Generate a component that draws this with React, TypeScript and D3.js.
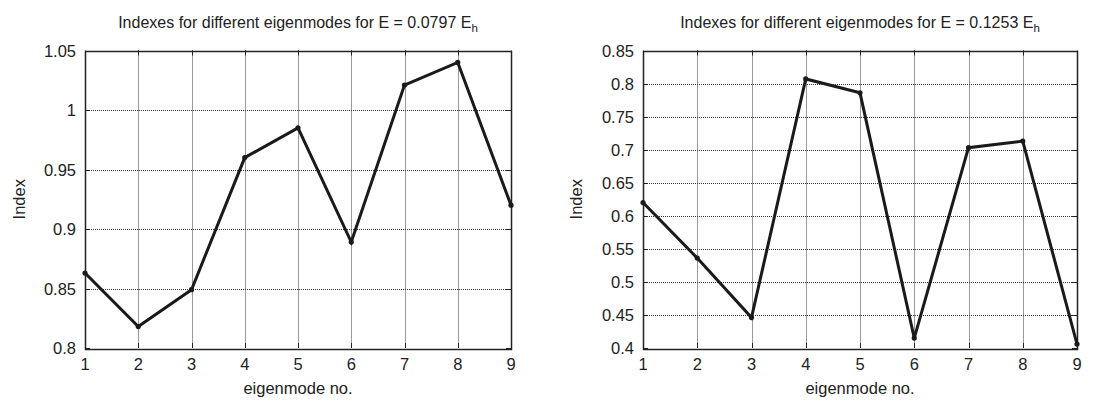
import React from "react";
import * as d3 from "d3";

const modes = [1, 2, 3, 4, 5, 6, 7, 8, 9];
const indexLow = [0.863, 0.818, 0.849, 0.960, 0.985, 0.889, 1.021, 1.040, 0.920];
const indexHigh = [0.620, 0.536, 0.446, 0.807, 0.786, 0.415, 0.703, 0.713, 0.406];
const yTicksLow = [0.8, 0.85, 0.9, 0.95, 1, 1.05];
const yTicksHigh = [0.4, 0.45, 0.5, 0.55, 0.6, 0.65, 0.7, 0.75, 0.8, 0.85];
const titleLow = { main: "Indexes for different eigenmodes for E = 0.0797 E", sub: "h" };
const titleHigh = { main: "Indexes for different eigenmodes for E = 0.1253 E", sub: "h" };

const FONT = "'Liberation Sans', Arial, Helvetica, sans-serif";

type PanelProps = {
  x0: number;
  x1: number;
  y0: number;
  y1: number;
  values: number[];
  yTicks: number[];
  title: { main: string; sub: string };
  labelX: number;
};

const px = (v: number) => Math.round(v) + 0.5;

function Panel({ x0, x1, y0, y1, values, yTicks, title, labelX }: PanelProps) {
  const x = d3.scaleLinear().domain([1, 9]).range([x0, x1]);
  const y = d3
    .scaleLinear()
    .domain([yTicks[0], yTicks[yTicks.length - 1]])
    .range([y1, y0]);
  const line = d3
    .line<number>()
    .x((_, i) => x(modes[i]))
    .y((d) => y(d));
  const tickLen = 5;
  const cx = (x0 + x1) / 2;
  const cy = (y0 + y1) / 2;
  return (
    <g fontFamily={FONT} fill="#222">
      {/* grid */}
      {modes.slice(1, -1).map((m) => (
        <line
          key={"gx" + m}
          x1={px(x(m))}
          x2={px(x(m))}
          y1={y0}
          y2={y1}
          stroke="#333"
          strokeWidth={1}
          strokeDasharray="1,1"
        />
      ))}
      {yTicks.slice(1, -1).map((t) => (
        <line
          key={"gy" + t}
          x1={x0}
          x2={x1}
          y1={px(y(t))}
          y2={px(y(t))}
          stroke="#333"
          strokeWidth={1}
          strokeDasharray="1,1"
        />
      ))}
      {/* ticks */}
      {modes.map((m) => (
        <g key={"tx" + m}>
          <line x1={px(x(m))} x2={px(x(m))} y1={y1} y2={y1 - tickLen} stroke="#222" />
          <line x1={px(x(m))} x2={px(x(m))} y1={y0} y2={y0 + tickLen} stroke="#222" />
          <text x={x(m)} y={y1 + 22} textAnchor="middle" fontSize={16.5} fill="#222">
            {m}
          </text>
        </g>
      ))}
      {yTicks.map((t) => (
        <g key={"ty" + t}>
          <line x1={x0} x2={x0 + tickLen} y1={px(y(t))} y2={px(y(t))} stroke="#222" />
          <line x1={x1} x2={x1 - tickLen} y1={px(y(t))} y2={px(y(t))} stroke="#222" />
          <text x={x0 - 9} y={y(t) + 6} textAnchor="end" fontSize={16.5} fill="#222">
            {String(t)}
          </text>
        </g>
      ))}
      {/* box */}
      <rect
        x={px(x0)}
        y={px(y0)}
        width={Math.round(x1 - x0)}
        height={Math.round(y1 - y0)}
        fill="none"
        stroke="#222"
        strokeWidth={1.5}
      />
      {/* data */}
      <path d={line(values) || ""} fill="none" stroke="#1a1a1a" strokeWidth={3} strokeLinejoin="miter" />
      {values.map((v, i) => (
        <circle key={"p" + i} cx={x(modes[i])} cy={y(v)} r={2.6} fill="#1a1a1a" />
      ))}
      {/* title */}
      <text x={cx} y={28} textAnchor="middle" fontSize={16} fill="#222">
        {title.main}
        <tspan fontSize={11.5} dy={4}>
          {title.sub}
        </tspan>
      </text>
      {/* axis labels */}
      <text x={cx} y={394} textAnchor="middle" fontSize={16.5} fill="#222">
        eigenmode no.
      </text>
      <text
        transform={`translate(${labelX},${cy}) rotate(-90)`}
        textAnchor="middle"
        fontSize={16.5}
        fill="#222"
      >
        Index
      </text>
    </g>
  );
}

export default function App() {
  return (
    <svg
      width={1109}
      height={403}
      viewBox="0 0 1109 403"
      style={{ position: "absolute", left: 0, top: 0, background: "#fff" }}
    >
      <rect x={0} y={0} width={1109} height={403} fill="#fff" />
      <Panel
        x0={85}
        x1={511}
        y0={50.5}
        y1={348}
        values={indexLow}
        yTicks={yTicksLow}
        title={titleLow}
        labelX={25}
      />
      <Panel
        x0={643}
        x1={1077}
        y0={50.5}
        y1={348}
        values={indexHigh}
        yTicks={yTicksHigh}
        title={titleHigh}
        labelX={582}
      />
    </svg>
  );
}
